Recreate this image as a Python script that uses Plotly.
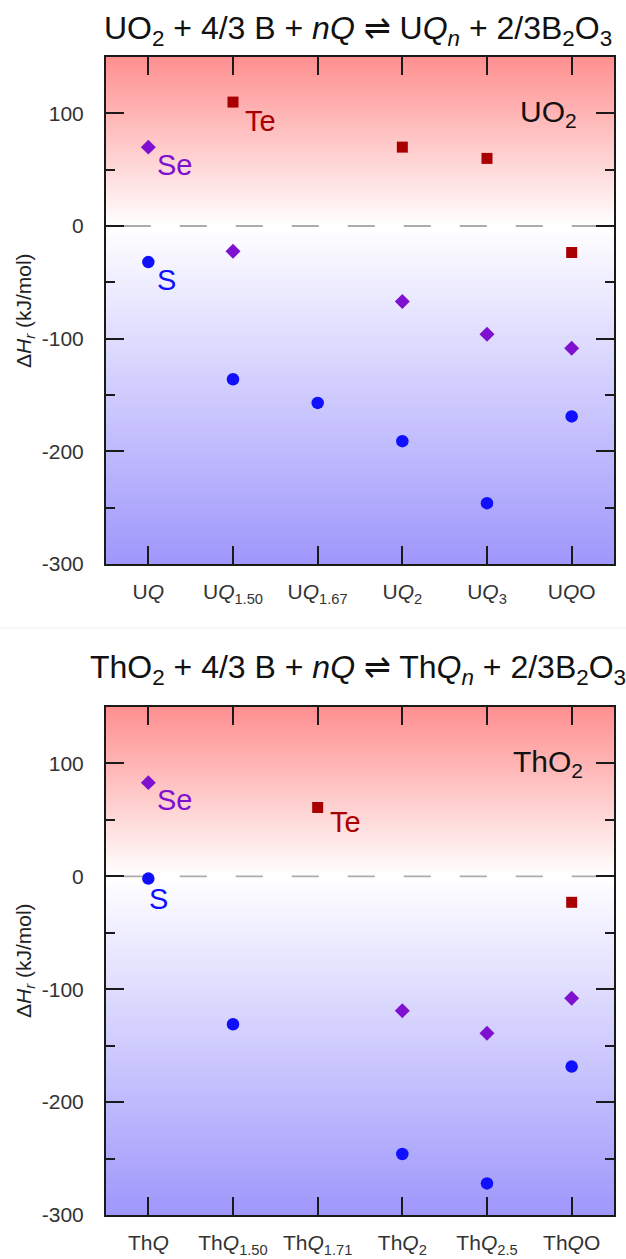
import numpy as np
import plotly.graph_objects as go

# ---------------- data ----------------
X_POS = [0, 1, 2, 3, 4, 5]
CATS_U = ["U<i>Q</i>", "U<i>Q</i><sub>1.50</sub>", "U<i>Q</i><sub>1.67</sub>",
          "U<i>Q</i><sub>2</sub>", "U<i>Q</i><sub>3</sub>", "U<i>Q</i>O"]
CATS_TH = ["Th<i>Q</i>", "Th<i>Q</i><sub>1.50</sub>", "Th<i>Q</i><sub>1.71</sub>",
           "Th<i>Q</i><sub>2</sub>", "Th<i>Q</i><sub>2.5</sub>", "Th<i>Q</i>O"]

U_S = [-32, -136, -157, -191, -246, -169]
U_SE = [70, -22.5, None, -67, -96, -108.5]
U_TE = [None, 110, None, 70, 60, -23.5]

TH_S = [-2, -131, None, -246, -272, -168.5]
TH_SE = [83, None, None, -119, -139, -108]
TH_TE = [None, None, 61, None, None, -23]

Y_TICKS = [-300, -200, -100, 0, 100]
Y_TICKTEXT = ["-300", "-200", "-100", "0", "100"]
Y_MIN, Y_MAX = -300, 150
ZERO = 0

TITLE_U = "UO<sub>2</sub> + 4/3 B + <i>nQ</i> \u21cc U<i>Q<sub>n</sub></i> + 2/3B<sub>2</sub>O<sub>3</sub>"
TITLE_TH = "ThO<sub>2</sub> + 4/3 B + <i>nQ</i> \u21cc Th<i>Q<sub>n</sub></i> + 2/3B<sub>2</sub>O<sub>3</sub>"
YTITLE = "\u0394<i>H<sub>r</sub></i> (kJ/mol)"

# ---------------- styles ----------------
FONT = "Liberation Sans, Arial, sans-serif"
C_S = "#1010ff"
C_SE = "#8010d0"
C_TE = "#a80000"
W, H = 626, 1259

X_DOM = [106 / W, 614 / W]
Y_DOM_TOP = [1 - 564 / H, 1 - 57 / H]
Y_DOM_BOT = [1 - 1215 / H, 1 - 707 / H]

fig = go.Figure()

# background gradient
edges = np.arange(Y_MIN, Y_MAX + 1, 1.0)
centers = (edges[:-1] + edges[1:]) / 2
zgrad = [[v] for v in centers]
cscale = [[0.0, "#9f97fc"], [(0 - Y_MIN) / (Y_MAX - Y_MIN), "#ffffff"], [1.0, "#ff8f8f"]]

for xa, ya in [("x", "y"), ("x2", "y2")]:
    fig.add_trace(go.Heatmap(z=zgrad, x=[-0.5, 5.5], y=edges, colorscale=cscale,
                             zmin=Y_MIN, zmax=Y_MAX, showscale=False, hoverinfo="skip",
                             xaxis=xa, yaxis=ya))
    fig.add_trace(go.Scatter(x=[-0.29, 5.5], y=[ZERO, ZERO], mode="lines",
                             line=dict(color="#acacac", width=1.8, dash="27px,29px"),
                             hoverinfo="skip", xaxis=xa, yaxis=ya))

def add_series(vals, color, symbol, size, xa, ya):
    fig.add_trace(go.Scatter(x=X_POS, y=vals, mode="markers",
                             marker=dict(color=color, symbol=symbol, size=size, line=dict(width=0)),
                             xaxis=xa, yaxis=ya))

add_series(U_S, C_S, "circle", 12.5, "x", "y")
add_series(U_SE, C_SE, "diamond", 11.5, "x", "y")
add_series(U_TE, C_TE, "square", 11, "x", "y")
add_series(TH_S, C_S, "circle", 12.5, "x2", "y2")
add_series(TH_SE, C_SE, "diamond", 11.5, "x2", "y2")
add_series(TH_TE, C_TE, "square", 11, "x2", "y2")

axis_common = dict(showline=True, linecolor="#1a1a1a", linewidth=2, mirror="allticks",
                   ticks="inside", tickcolor="#1a1a1a", tickwidth=2, showgrid=False,
                   zeroline=False, automargin=False,
                   tickfont=dict(family=FONT, size=21, color="#333333"))

xcommon = dict(axis_common, range=[-0.5, 5.5], tickvals=X_POS, ticklen=18,
               ticklabelstandoff=8, domain=X_DOM)
ycommon = dict(axis_common, range=[Y_MIN, Y_MAX], tickvals=Y_TICKS, ticktext=Y_TICKTEXT,
               ticklen=18, ticklabelstandoff=16,
               minor=dict(ticks="inside", ticklen=9, tickwidth=2, tickcolor="#1a1a1a",
                          tickvals=[-250, -150, -50, 50]))

fig.update_layout(
    width=W, height=H, margin=dict(l=0, r=0, t=0, b=0, autoexpand=False),
    paper_bgcolor="white", plot_bgcolor="white", showlegend=False,
    font=dict(family=FONT),
    xaxis=dict(xcommon, ticktext=CATS_U, anchor="y"),
    yaxis=dict(ycommon, domain=Y_DOM_TOP, anchor="x"),
    xaxis2=dict(xcommon, ticktext=CATS_TH, anchor="y2"),
    yaxis2=dict(ycommon, domain=Y_DOM_BOT, anchor="x2"),
)

ann = []
# titles
ann.append(dict(text=TITLE_U, xref="paper", yref="paper", x=358 / W, y=1 - 31 / H,
                xanchor="center", yanchor="middle", showarrow=False,
                font=dict(family=FONT, size=32, color="#111111")))
ann.append(dict(text=TITLE_TH, xref="paper", yref="paper", x=358 / W, y=1 - 669 / H,
                xanchor="center", yanchor="middle", showarrow=False,
                font=dict(family=FONT, size=32, color="#111111")))
# y titles
for yc in [311, 961]:
    ann.append(dict(text=YTITLE, xref="paper", yref="paper", x=25 / W, y=1 - yc / H,
                    xanchor="center", yanchor="middle", textangle=-90, showarrow=False,
                    font=dict(family=FONT, size=21, color="#222222")))
# compound labels in panels
ann.append(dict(text="UO<sub>2</sub>", xref="x domain", yref="y", x=(579 - 106) / 508, y=100,
                xanchor="right", yanchor="middle", showarrow=False,
                font=dict(family=FONT, size=30, color="#111111")))
ann.append(dict(text="ThO<sub>2</sub>", xref="x2 domain", yref="y2", x=(585 - 106) / 508, y=100,
                xanchor="right", yanchor="middle", showarrow=False,
                font=dict(family=FONT, size=30, color="#111111")))

# element labels next to points
def lab(text, color, xref, yref, x, y, dx, dy):
    ann.append(dict(text=text, xref=xref, yref=yref, x=x, y=y, xshift=dx, yshift=dy,
                    xanchor="left", yanchor="middle", showarrow=False,
                    font=dict(family=FONT, size=29, color=color)))

lab("Se", C_SE, "x", "y", X_POS[0], U_SE[0], 7, -18)
lab("Te", C_TE, "x", "y", X_POS[1], U_TE[1], 10, -19)
lab("S", C_S, "x", "y", X_POS[0], U_S[0], 7, -18)
lab("Se", C_SE, "x2", "y2", X_POS[0], TH_SE[0], 7, -17)
lab("Te", C_TE, "x2", "y2", X_POS[2], TH_TE[2], 10, -15)
lab("S", C_S, "x2", "y2", X_POS[0], TH_S[0], -1, -20)

fig.update_layout(annotations=ann)

# faint separator between panels
fig.add_shape(type="line", xref="paper", yref="paper", x0=0, x1=1, y0=1 - 628 / H, y1=1 - 628 / H,
              line=dict(color="#f2f2f2", width=1))

fig.write_html("out.html")
